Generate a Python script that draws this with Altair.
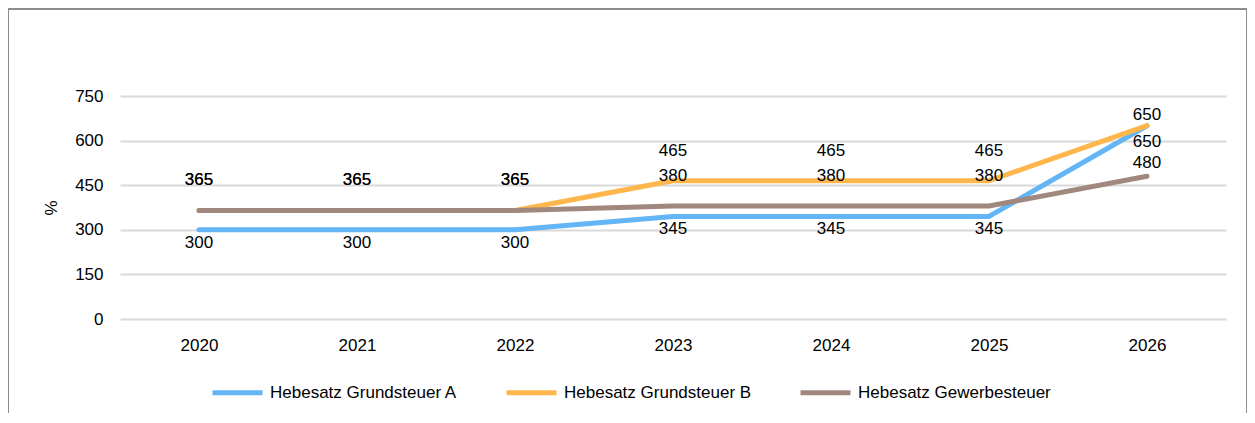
import altair as alt
import pandas as pd

years = ["2020", "2021", "2022", "2023", "2024", "2025", "2026"]
grundsteuer_a = [300, 300, 300, 345, 345, 345, 650]
grundsteuer_b = [365, 365, 365, 465, 465, 465, 650]
gewerbesteuer = [365, 365, 365, 380, 380, 380, 480]
series_names = ["Hebesatz Grundsteuer A", "Hebesatz Grundsteuer B", "Hebesatz Gewerbesteuer"]
series_colors = ["#64B5F6", "#FFB74D", "#A1887F"]
y_ticks = [0, 150, 300, 450, 600, 750]

rows = []
for name, vals in zip(series_names, [grundsteuer_a, grundsteuer_b, gewerbesteuer]):
    for i, (yr, v) in enumerate(zip(years, vals)):
        rows.append({"series": name, "year": yr, "value": v, "idx": i})
df = pd.DataFrame(rows)

FONT = "Liberation Sans"
W, H = 1106, 223

x_enc = alt.X("year:N", sort=years, title=None,
              axis=alt.Axis(labelAngle=0, ticks=False, tickSize=0, domain=False, grid=False,
                            labelPadding=18, labelFontSize=17, labelFont=FONT, labelColor="#000000"))
y_enc = alt.Y("value:Q", title="%", scale=alt.Scale(domain=[0, 750], nice=False),
              axis=alt.Axis(values=y_ticks, ticks=False, tickSize=0, domain=False, grid=True,
                            gridColor="#D9D9D9", gridWidth=2, labelPadding=17,
                            labelFontSize=17, labelFont=FONT, labelColor="#000000",
                            titleFont=FONT, titleFontSize=17, titleFontWeight="normal",
                            titleColor="#000000", titlePadding=14))

base = alt.Chart(df)

lines = base.mark_line(strokeWidth=5, strokeCap="round", strokeJoin="round").encode(
    x=x_enc, y=y_enc,
    color=alt.Color("series:N", sort=series_names,
                    scale=alt.Scale(domain=series_names, range=series_colors),
                    legend=alt.Legend(title=None, orient="none", direction="horizontal",
                                      legendX=90, legendY=269,
                                      symbolType="stroke", symbolSize=2500, symbolStrokeWidth=5,
                                      labelFont=FONT, labelFontSize=17, labelColor="#000000",
                                      labelOffset=5, columnPadding=38, labelLimit=400)),
    order="idx:Q",
)

label_offsets = {
    "Hebesatz Grundsteuer A": (13, 16),
    "Hebesatz Grundsteuer B": (-30, -11),
    "Hebesatz Gewerbesteuer": (-30, -13),
}

label_layers = []
for name in series_names:
    body_dy, last_dy = label_offsets[name]
    for cond, dy in [("datum.idx < 6", body_dy), ("datum.idx == 6", last_dy)]:
        label_layers.append(
            base.transform_filter(alt.datum.series == name).transform_filter(cond)
            .mark_text(font=FONT, fontSize=17, color="#000000", dy=dy, baseline="middle")
            .encode(x=alt.X("year:N", sort=years), y=alt.Y("value:Q"), text="value:Q")
        )

frame_color = "#8C8C8C"
frame_left = alt.Chart(df).mark_rule(color=frame_color, strokeWidth=1).encode(
    x=alt.value(-111.5), y=alt.value(-87), y2=alt.value(330))
frame_top = alt.Chart(df).mark_rule(color=frame_color, strokeWidth=1).encode(
    x=alt.value(-111.5), x2=alt.value(1126.5), y=alt.value(-87))
frame_right = alt.Chart(df).mark_rule(color=frame_color, strokeWidth=1).encode(
    x=alt.value(1126.5), y=alt.value(-87), y2=alt.value(330))

chart = alt.layer(lines, *label_layers, frame_left, frame_top, frame_right).properties(
    width=W, height=H,
    padding={"left": 112, "top": 88, "right": 21, "bottom": 94},
    autosize=alt.AutoSizeParams(type="none"),
).configure_view(stroke=None)

chart.save("out.html", embed_options={"renderer": "svg", "actions": False})
